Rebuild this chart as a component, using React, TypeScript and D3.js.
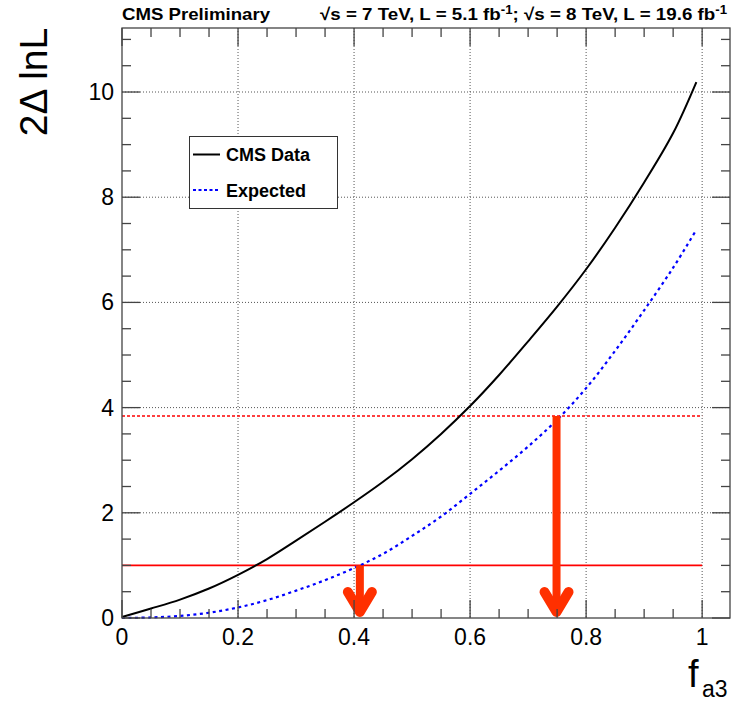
import React from "react";
import * as d3 from "d3";

const fGrid = [0, 0.05, 0.1, 0.15, 0.2, 0.25, 0.3, 0.35, 0.4, 0.45, 0.5, 0.55, 0.6, 0.65, 0.7, 0.75, 0.8, 0.85, 0.9, 0.95, 0.99];
const dataValues = [0.02, 0.18, 0.35, 0.56, 0.82, 1.12, 1.47, 1.83, 2.2, 2.59, 3.02, 3.5, 4.03, 4.62, 5.26, 5.92, 6.63, 7.42, 8.28, 9.22, 10.19];
const expectedValues = [0, 0.01, 0.04, 0.1, 0.2, 0.34, 0.52, 0.72, 0.95, 1.22, 1.56, 1.93, 2.36, 2.8, 3.26, 3.77, 4.37, 5.08, 5.85, 6.66, 7.38];

const xTicksMajor = [0, 0.2, 0.4, 0.6, 0.8, 1];
const xTickLabels = ["0", "0.2", "0.4", "0.6", "0.8", "1"];
const yTicksMajor = [0, 2, 4, 6, 8, 10];
const yTickLabels = ["0", "2", "4", "6", "8", "10"];

const thresholds = [1, 3.84];
const limitX = [0.41, 0.749];
const limitTop = [1, 3.84];

const W = 742, H = 701;
const L = 122, R = 730, T = 28, B = 618;

export default function App() {
  const x = d3.scaleLinear().domain([0, 1.048]).range([L, R]);
  const y = d3.scaleLinear().domain([0, 11.217]).range([B, T]);

  const xMinor = d3.range(0, 1.0001, 0.05);
  const yMinor = d3.range(0, 11.01, 0.5);

  const line = d3
    .line<number>()
    .x((_, i) => x(fGrid[i]))
    .y((d) => y(d))
    .curve(d3.curveCatmullRom.alpha(0.5));

  const axisColor = "#444";
  const font = "'Liberation Sans', Arial, Helvetica, sans-serif";

  return (
    <svg width={W} height={H} style={{ position: "absolute", left: 0, top: 0 }} fontFamily={font}>
      <rect x={0} y={0} width={W} height={H} fill="white" />
      {/* grid */}
      {xTicksMajor.slice(1).map((t) => (
        <line key={"gx" + t} x1={x(t)} x2={x(t)} y1={T} y2={B} stroke="#555" strokeWidth={1} strokeDasharray="1,2" />
      ))}
      {yTicksMajor.slice(1).map((t) => (
        <line key={"gy" + t} x1={L} x2={R} y1={y(t)} y2={y(t)} stroke="#555" strokeWidth={1} strokeDasharray="1,2" />
      ))}
      {/* threshold lines */}
      <line x1={x(0)} x2={x(1)} y1={y(thresholds[0])} y2={y(thresholds[0])} stroke="#ff0000" strokeWidth={1.6} />
      <line x1={x(0)} x2={x(1)} y1={y(thresholds[1])} y2={y(thresholds[1])} stroke="#ff0000" strokeWidth={1.6} strokeDasharray="3,2" />
      {/* curves */}
      <path d={line(expectedValues) || ""} fill="none" stroke="#0000ff" strokeWidth={2.2} strokeDasharray="3,3.5" />
      <path d={line(dataValues) || ""} fill="none" stroke="#000" strokeWidth={2} />
      {/* arrows */}
      {limitX.map((lx, i) => {
        const cx = x(lx);
        const y0 = y(0);
        return (
          <g key={"arr" + i}>
            <line x1={cx} x2={cx} y1={y(limitTop[i])} y2={y0 - 8} stroke="#ff3000" strokeWidth={8} />
            <polyline
              points={`${cx - 12},${y0 - 26} ${cx},${y0 - 6} ${cx + 12},${y0 - 26}`}
              fill="none"
              stroke="#ff3000"
              strokeWidth={10}
              strokeLinecap="round"
              strokeLinejoin="round"
            />
          </g>
        );
      })}
      {/* legend */}
      <rect x={189.5} y={136.5} width={148} height={72} fill="white" stroke="#333" strokeWidth={1} />
      <line x1={193} x2={220} y1={154.5} y2={154.5} stroke="#000" strokeWidth={2} />
      <line x1={193} x2={220} y1={190} y2={190} stroke="#0000ff" strokeWidth={2.2} strokeDasharray="3,2.5" />
      <text x={226} y={161} fontSize={18} fontWeight="bold">CMS Data</text>
      <text x={226} y={196.5} fontSize={18} fontWeight="bold">Expected</text>
      {/* frame */}
      <rect x={L} y={T} width={R - L} height={B - T} fill="none" stroke={axisColor} strokeWidth={1.3} />
      {/* x ticks */}
      {xMinor.map((t) => {
        const major = xTicksMajor.some((m) => Math.abs(m - t) < 1e-6);
        const len = major ? 18 : 9;
        return (
          <g key={"xt" + t}>
            <line x1={x(t)} x2={x(t)} y1={B} y2={B - len} stroke={axisColor} strokeWidth={1.3} />
            <line x1={x(t)} x2={x(t)} y1={T} y2={T + len} stroke={axisColor} strokeWidth={1.3} />
          </g>
        );
      })}
      {yMinor.map((t) => {
        const major = yTicksMajor.some((m) => Math.abs(m - t) < 1e-6);
        const len = major ? 18 : 9;
        return (
          <g key={"yt" + t}>
            <line x1={L} x2={L + len} y1={y(t)} y2={y(t)} stroke={axisColor} strokeWidth={1.3} />
            <line x1={R} x2={R - len} y1={y(t)} y2={y(t)} stroke={axisColor} strokeWidth={1.3} />
          </g>
        );
      })}
      {/* tick labels */}
      {xTicksMajor.map((t, i) => (
        <text key={"xl" + t} x={x(t)} y={645} fontSize={23} textAnchor="middle">{xTickLabels[i]}</text>
      ))}
      {yTicksMajor.map((t, i) => (
        <text key={"yl" + t} x={114} y={y(t) + 8} fontSize={23} textAnchor="end">{yTickLabels[i]}</text>
      ))}
      {/* axis titles */}
      <text transform="translate(47,82) rotate(-90)" fontSize={39} textAnchor="middle">2Δ lnL</text>
      <text x={688} y={687} fontSize={38}>f</text>
      <text x={702} y={697} fontSize={23}>a3</text>
      {/* header */}
      <text x={122} y={20} fontSize={17} fontWeight="bold" textLength={148} lengthAdjust="spacingAndGlyphs">CMS Preliminary</text>
      <text x={320} y={20} fontSize={17} fontWeight="bold" textLength={407} lengthAdjust="spacingAndGlyphs">
        √s = 7 TeV, L = 5.1 fb<tspan dy={-6} fontSize={12}>-1</tspan><tspan dy={6}>; √s = 8 TeV, L = 19.6 fb</tspan><tspan dy={-6} fontSize={12}>-1</tspan>
      </text>
    </svg>
  );
}
